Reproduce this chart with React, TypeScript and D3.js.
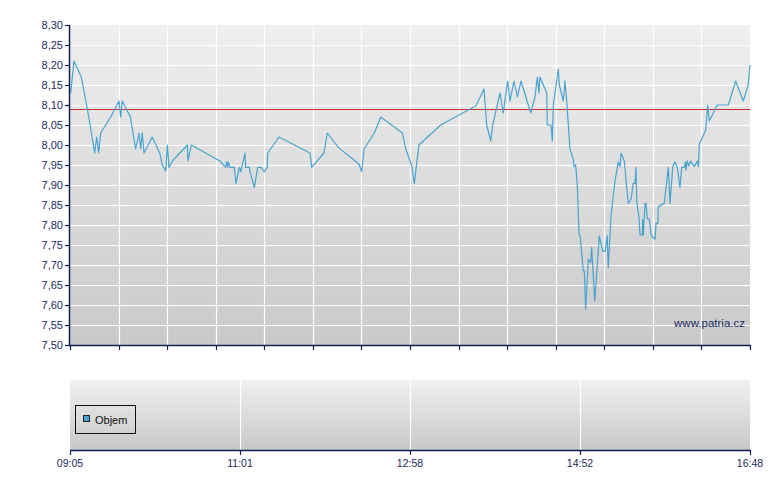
import React from "react";
import * as d3 from "d3";

// minutes since 09:05 open
const minutes: number[] = [
  0.5, 2.7, 7.7, 12.3, 16.8, 18.2, 19.5, 20.9, 27.7, 33.4, 34.5, 35.6, 41.1, 44.7, 47.0, 48.1, 49.2, 50.4,
  56.0, 61.1, 62.8, 65.2, 66.3, 67.4, 69.7, 79.9, 80.3, 82.6, 102.1, 106.0, 106.7, 107.4, 107.8, 108.9,
  111.9, 113.0, 115.3, 116.4, 116.9, 119.2, 119.6, 122.1, 122.6, 125.5, 127.8, 130.1, 132.3, 134.3, 134.6,
  142.3, 163.4, 164.6, 172.9, 175.2, 182.7, 196.8, 198.6, 200.2, 207.2, 211.6, 226.3, 228.6, 232.7, 234.4,
  237.6, 252.4, 276.4, 281.9, 283.7, 286.5, 287.8, 292.8, 295.0, 298.0, 299.6, 302.3, 304.6, 307.1, 313.7,
  316.6, 318.2, 319.3, 320.0, 324.6, 325.0, 327.5, 328.4, 329.1, 332.5, 333.2, 335.9, 337.0, 338.2, 340.4,
  342.7, 343.2, 344.3, 345.4, 346.6, 347.3, 349.5, 350.2, 351.1, 352.9, 354.5, 355.2, 357.3, 360.4, 362.7,
  364.3, 365.8, 366.5, 368.4, 371.1, 373.3, 374.5, 375.2, 377.4, 379.1, 380.1, 382.0, 383.5, 384.7, 385.4,
  385.9, 387.4, 388.1, 389.7, 389.9, 390.4, 391.5, 392.2, 393.1, 394.4, 395.6, 398.3, 399.0, 400.2, 400.6,
  404.6, 407.4, 408.5, 410.4, 411.9, 413.5, 415.3, 416.5, 418.3, 419.0, 419.4, 420.3, 421.3, 422.6, 425.1,
  427.1, 427.8, 428.5, 432.8, 434.2, 435.3, 440.7, 448.2, 453.3, 458.4, 461.8, 463.0,
];

const prices: number[] = [
  8.13, 8.21, 8.17, 8.08, 7.98, 8.02, 7.98, 8.03, 8.07, 8.11, 8.07, 8.11, 8.07, 7.99, 8.03, 7.99, 8.03, 7.98,
  8.02, 7.98, 7.95, 7.935, 8.0, 7.944, 7.96, 8.0, 7.96, 8.0, 7.96, 7.944, 7.958, 7.944, 7.958, 7.944,
  7.944, 7.904, 7.944, 7.933, 7.944, 7.98, 7.944, 7.944, 7.933, 7.894, 7.944, 7.944, 7.933, 7.944, 7.98,
  8.02, 7.98, 7.944, 7.98, 8.03, 7.994, 7.952, 7.933, 7.99, 8.03, 8.07, 8.03, 7.99, 7.948, 7.904,
  8.0, 8.05, 8.098, 8.14, 8.05, 8.01, 8.05, 8.13, 8.08, 8.16, 8.11, 8.16, 8.12, 8.16, 8.08,
  8.12, 8.17, 8.13, 8.17, 8.13, 8.05, 8.05, 8.01, 8.1, 8.19, 8.15, 8.11, 8.16, 8.11, 7.99,
  7.964, 7.946, 7.95, 7.9, 7.775, 7.775, 7.685, 7.685, 7.589, 7.714, 7.706, 7.744, 7.61, 7.773, 7.734,
  7.734, 7.773, 7.694, 7.825, 7.91, 7.958, 7.946, 7.98, 7.96, 7.892, 7.854, 7.864, 7.904, 7.904, 7.944,
  7.858, 7.82, 7.775, 7.775, 7.814, 7.775, 7.854, 7.854, 7.815, 7.815, 7.775, 7.764, 7.804, 7.804, 7.846,
  7.854, 7.944, 7.854, 7.946, 7.958, 7.944, 7.894, 7.944, 7.944, 7.958, 7.9375, 7.96, 7.948, 7.96, 7.946,
  7.96, 7.946, 8.002, 8.037, 8.1, 8.06, 8.1, 8.1, 8.16, 8.11, 8.15, 8.2,
];

const referencePrice = 8.09;
const yTicks: number[] = [7.5, 7.55, 7.6, 7.65, 7.7, 7.75, 7.8, 7.85, 7.9, 7.95, 8.0, 8.05, 8.1, 8.15, 8.2, 8.25, 8.3];
const timeLabels: string[] = ["09:05", "11:01", "12:58", "14:52", "16:48"];
const sessionMinutes = 463;
const legendLabel = "Objem";
const watermark = "www.patria.cz";

const W = 780;
const H = 490;
const left = 70;
const right = 750;
const mainTop = 25;
const mainBottom = 345;
const volTop = 380;
const volBottom = 450;
const axisColor = "#0d2157";
const textColor = "#1a2a5c";
const lineColor = "#4aa3cf";
const font = "'Liberation Sans', Arial, sans-serif";

export default function App() {
  const x = d3.scaleLinear().domain([0, sessionMinutes]).range([left, right]);
  const y = d3.scaleLinear().domain([7.5, 8.3]).range([mainBottom, mainTop]);

  const line = d3
    .line<number>()
    .x((_, i) => x(minutes[i]))
    .y((d) => y(d))
    .curve(d3.curveLinear);

  const mainGrid = d3.range(1, 14).map((k) => (sessionMinutes * k) / 14);
  const mainTicks = d3.range(0, 15).map((k) => (sessionMinutes * k) / 14);
  const labelPos = timeLabels.map((_, i) => (sessionMinutes * i) / (timeLabels.length - 1));
  const px = (v: number) => Math.round(v) + 0.5;

  return (
    <svg width={W} height={H} style={{ position: "absolute", left: 0, top: 0 }} fontFamily={font}>
      <defs>
        <linearGradient id="bgMain" x1="0" y1="0" x2="0" y2="1">
          <stop offset="0" stopColor="#efefef" />
          <stop offset="1" stopColor="#c9c9c9" />
        </linearGradient>
        <linearGradient id="bgVol" x1="0" y1="0" x2="0" y2="1">
          <stop offset="0" stopColor="#f0f0f0" />
          <stop offset="1" stopColor="#c8c8c8" />
        </linearGradient>
      </defs>
      <rect width={W} height={H} fill="#ffffff" />

      {/* main panel */}
      <rect x={left} y={mainTop} width={right - left} height={mainBottom - mainTop} fill="url(#bgMain)" />
      {yTicks.slice(1, -1).map((t) => (
        <line key={"hg" + t} x1={left} x2={right} y1={px(y(t))} y2={px(y(t))} stroke="#ffffff" strokeWidth={1.2} />
      ))}
      {mainGrid.map((t) => (
        <line key={"vg" + t} x1={px(x(t))} x2={px(x(t))} y1={mainTop} y2={mainBottom} stroke="#ffffff" strokeWidth={1.2} />
      ))}
      <line x1={left} x2={right} y1={px(y(referencePrice))} y2={px(y(referencePrice))} stroke="#c43030" strokeWidth={1} />
      <path d={line(prices) || ""} fill="none" stroke={lineColor} strokeWidth={1.2} strokeLinejoin="round" />
      <text x={745} y={327} textAnchor="end" fontSize={11.5} fill={textColor}>
        {watermark}
      </text>

      {/* main axes */}
      <line x1={px(left) - 1} x2={px(left) - 1} y1={mainTop} y2={mainBottom + 1} stroke={axisColor} strokeWidth={1.5} />
      <line x1={left - 1} x2={right + 1} y1={px(mainBottom)} y2={px(mainBottom)} stroke={axisColor} strokeWidth={1.5} />
      {yTicks.map((t) => (
        <g key={"yt" + t}>
          <line x1={left - 5} x2={left} y1={px(y(t))} y2={px(y(t))} stroke={axisColor} strokeWidth={1.2} />
          <text x={63} y={y(t) + 4} textAnchor="end" fontSize={11} fill={textColor}>
            {t.toFixed(2).replace(".", ",")}
          </text>
        </g>
      ))}
      {mainTicks.map((t) => (
        <line key={"xt" + t} x1={px(x(t))} x2={px(x(t))} y1={mainBottom} y2={mainBottom + 5} stroke={axisColor} strokeWidth={1.2} />
      ))}

      {/* volume panel */}
      <rect x={left} y={volTop} width={right - left} height={volBottom - volTop} fill="url(#bgVol)" />
      {labelPos.slice(1, -1).map((t) => (
        <line key={"vv" + t} x1={px(x(t))} x2={px(x(t))} y1={volTop} y2={volBottom} stroke="#ffffff" strokeWidth={1.2} />
      ))}
      <line x1={left} x2={right + 1} y1={px(volBottom)} y2={px(volBottom)} stroke={axisColor} strokeWidth={1.5} />
      {labelPos.map((t, i) => (
        <g key={"lt" + i}>
          <line x1={px(x(t))} x2={px(x(t))} y1={volBottom} y2={volBottom + 5} stroke={axisColor} strokeWidth={1.2} />
          <text x={x(t)} y={467} textAnchor="middle" fontSize={10.5} fill={textColor}>
            {timeLabels[i]}
          </text>
        </g>
      ))}

      {/* legend */}
      <rect x={75.5} y={405.5} width={60} height={28} fill="none" stroke="#111111" strokeWidth={1} />
      <rect x={83.5} y={415.5} width={6} height={6} fill={lineColor} stroke="#222222" strokeWidth={1} />
      <text x={95} y={424} fontSize={11} fill="#111111">
        {legendLabel}
      </text>
    </svg>
  );
}
